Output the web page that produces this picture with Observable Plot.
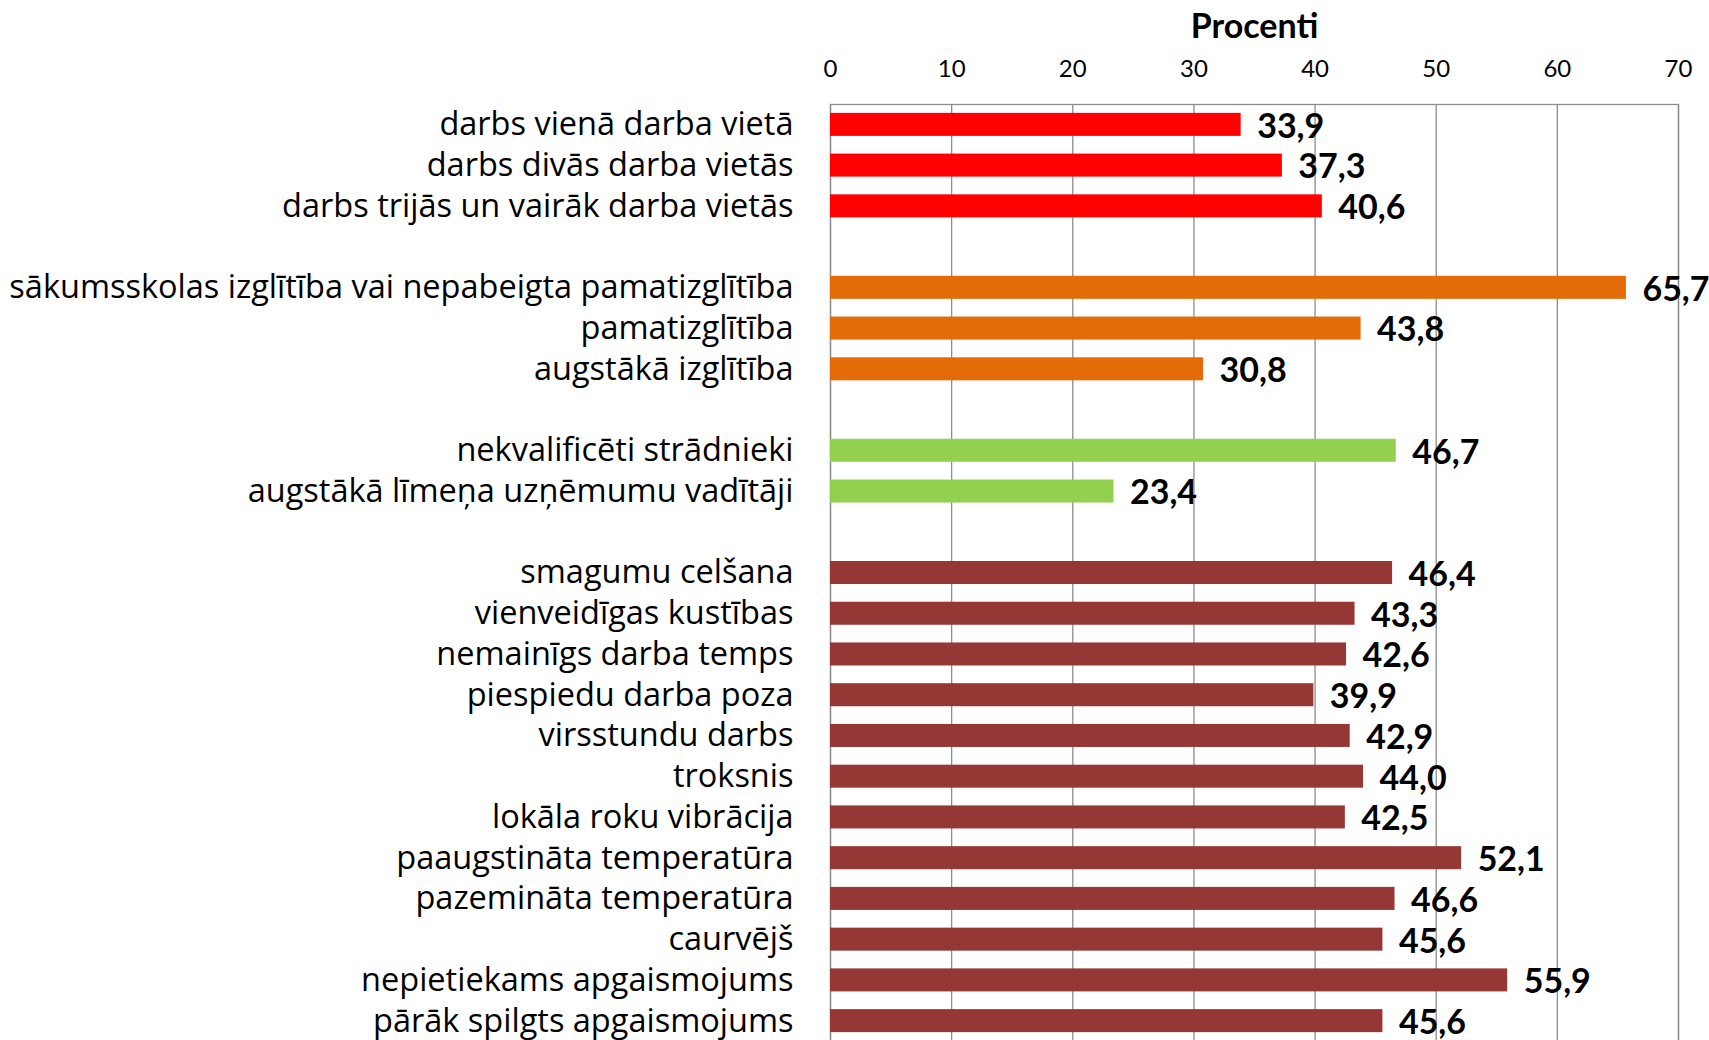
<!DOCTYPE html>
<html>
<head>
<meta charset="utf-8">
<script src="https://cdn.jsdelivr.net/npm/d3@7"></script>
<script src="https://cdn.jsdelivr.net/npm/@observablehq/plot@0.6"></script>
<style>
  html, body { margin: 0; padding: 0; background: #fff; overflow: hidden; }
  #chart { width: 1709px; height: 1040px; overflow: hidden; }
</style>
</head>
<body>
<div id="chart"></div>
<script>
const title = "Procenti";
const xTicks = [0, 10, 20, 30, 40, 50, 60, 70];

const categories = [
  "darbs vienā darba vietā",
  "darbs divās darba vietās",
  "darbs trijās un vairāk darba vietās",
  "__gap1",
  "sākumsskolas izglītība vai nepabeigta pamatizglītība",
  "pamatizglītība",
  "augstākā izglītība",
  "__gap2",
  "nekvalificēti strādnieki",
  "augstākā līmeņa uzņēmumu vadītāji",
  "__gap3",
  "smagumu celšana",
  "vienveidīgas kustības",
  "nemainīgs darba temps",
  "piespiedu darba poza",
  "virsstundu darbs",
  "troksnis",
  "lokāla roku vibrācija",
  "paaugstināta temperatūra",
  "pazemināta temperatūra",
  "caurvējš",
  "nepietiekams apgaismojums",
  "pārāk spilgts apgaismojums"
];

const values = [
  33.9, 37.3, 40.6, null,
  65.7, 43.8, 30.8, null,
  46.7, 23.4, null,
  46.4, 43.3, 42.6, 39.9, 42.9, 44.0, 42.5, 52.1, 46.6, 45.6, 55.9, 45.6
];

const groups = [
  "work", "work", "work", null,
  "edu", "edu", "edu", null,
  "occ", "occ", null,
  "cond", "cond", "cond", "cond", "cond", "cond", "cond", "cond", "cond", "cond", "cond", "cond"
];

const groupNames = ["work", "edu", "occ", "cond"];
const groupColors = ["#ff0000", "#e36c09", "#92d050", "#953735"];

const data = categories
  .map((c, i) => ({category: c, value: values[i], group: groups[i]}))
  .filter(d => d.value != null);

const fmt = v => v.toFixed(1).replace(".", ",");
const labelFont = "'Open Sans', Lato, sans-serif";
const boldFont = "Lato, 'Open Sans', sans-serif";

const chart = Plot.plot({
  width: 1709,
  height: 1041,
  marginLeft: 830,
  marginRight: 31,
  marginTop: 104,
  marginBottom: 0,
  style: {fontFamily: boldFont, background: "#fff", overflow: "visible"},
  x: {domain: [0, 70], ticks: xTicks, axis: null},
  y: {domain: categories, paddingInner: 0.435, paddingOuter: 0.2175, round: false, axis: null},
  color: {domain: groupNames, range: groupColors},
  marks: [
    Plot.ruleX(xTicks, {stroke: "#8c8c8c", strokeWidth: 1.3}),
    Plot.frame({stroke: "#8c8c8c", strokeWidth: 1.3}),
    Plot.barX(data, {x: "value", y: "category", fill: "group"}),
    Plot.text(data, {
      x: "value", y: "category", text: d => fmt(d.value),
      textAnchor: "start", dx: 16, dy: 2, fontSize: 34, fontWeight: "bold", fill: "#000"
    }),
    Plot.axisY({
      tickSize: 0, tickPadding: 37, fontSize: 32.5, fill: "#000", label: null,
      fontFamily: labelFont,
      tickFormat: d => d.startsWith("__") ? "" : d
    }),
    Plot.axisX(xTicks, {
      anchor: "top", tickSize: 0, tickPadding: 28, fontSize: 24, fill: "#000",
      label: null, tickFormat: d => String(d)
    }),
    Plot.text([title], {
      frameAnchor: "top", dy: -91, fontSize: 34, fontWeight: "bold", fill: "#000"
    })
  ]
});

document.getElementById("chart").appendChild(chart);
</script>
</body>
</html>
